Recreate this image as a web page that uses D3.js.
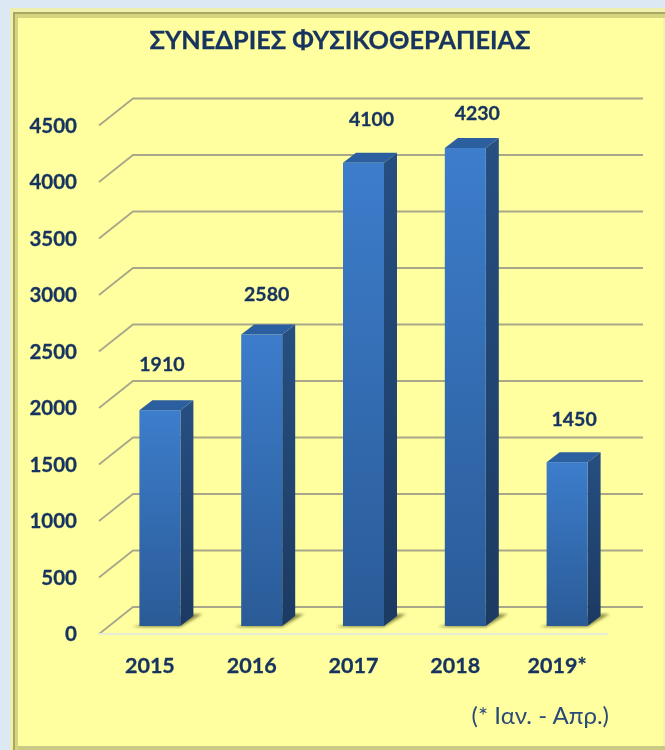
<!DOCTYPE html>
<html>
<head>
<meta charset="utf-8">
<script src="https://cdn.jsdelivr.net/npm/d3@7"></script>
<style>
  html, body { margin: 0; padding: 0; background: #dce8f3; }
  svg { display: block; filter: blur(0.45px); }
  text { font-family: "Lato", "Noto Sans", sans-serif; fill: #17335f; stroke: #17335f; stroke-width: 0.3px; }
</style>
</head>
<body>
<div id="chart"></div>
<script>
// data
var years = ["2015", "2016", "2017", "2018", "2019*"];
var sessions = [1910, 2580, 4100, 4230, 1450];
var yTicks = [0, 500, 1000, 1500, 2000, 2500, 3000, 3500, 4000, 4500];
var titleText = "ΣΥΝΕΔΡΙΕΣ ΦΥΣΙΚΟΘΕΡΑΠΕΙΑΣ";
var noteText = "(* Ιαν. - Απρ.)";

// hand placed value labels, relative to the top of each bar
var labelDx = [2, 5, 8, 12, 7];
var labelDy = [-39, -33, -37, -28, -36];

var width = 665, height = 750;

// fake 3d depth of the walls and of the bars
var wallX = 34, wallY = 27;
var barInY = 8;
var depthX = 13, depthY = 10;
var barW = 41;

var svg = d3.select("#chart")
  .append("svg")
    .attr("width", width)
    .attr("height", height)
    .attr("viewBox", "0 0 " + width + " " + height);

var defs = svg.append("defs");

function gradient(id, top, bottom) {
  var g = defs.append("linearGradient")
    .attr("id", id)
    .attr("x1", 0).attr("x2", 0).attr("y1", 0).attr("y2", 1);
  g.append("stop").attr("offset", "0%").attr("stop-color", top);
  g.append("stop").attr("offset", "100%").attr("stop-color", bottom);
}
gradient("barFront", "#3d7dcc", "#2a5b97");
gradient("barSide", "#264f82", "#1c3a62");

defs.append("filter").attr("id", "soft")
  .append("feGaussianBlur").attr("stdDeviation", 1.6);

// panel and its border
svg.append("rect").attr("x", 10).attr("y", 8).attr("width", 655).attr("height", 742).attr("fill", "#efefb0");
svg.append("rect").attr("x", 13).attr("y", 12).attr("width", 652).attr("height", 738).attr("fill", "#a9a862");
svg.append("rect").attr("x", 15).attr("y", 14).attr("width", 650).attr("height", 736).attr("fill", "#d6d57f");
svg.append("rect").attr("x", 18).attr("y", 18).attr("width", 645).attr("height", 728).attr("fill", "#ffff9f");
svg.append("rect").attr("x", 663).attr("y", 18).attr("width", 2).attr("height", 728).attr("fill", "#f2f2a8");
svg.append("rect").attr("x", 18).attr("y", 746).attr("width", 647).attr("height", 4).attr("fill", "#c9c884");

// scales, front plane of the floor
var y = d3.scaleLinear()
  .domain([0, 4500])
  .range([634, 125.5]);

var x = d3.scaleBand()
  .domain(years)
  .range([99, 608]);

// gridlines, along the wall and down the side
var gridEnd = 643;
svg.append("g")
  .selectAll("path")
  .data(yTicks)
  .enter()
  .append("path")
    .attr("d", function (d) {
      return "M" + x.range()[0] + "," + y(d) +
        "L" + (x.range()[0] + wallX) + "," + (y(d) - wallY) +
        "H" + gridEnd;
    })
    .attr("fill", "none")
    .attr("stroke", "#a8a78a")
    .attr("stroke-width", 1.8);

// floor edge
svg.append("line")
  .attr("x1", x.range()[0]).attr("x2", x.range()[1])
  .attr("y1", y(0)).attr("y2", y(0))
  .attr("stroke", "#e8edd6")
  .attr("stroke-width", 2);

function barLeft(d) { return x(d) + (x.bandwidth() - barW) / 2 + 10; }

var bars = svg.append("g")
  .selectAll("g")
  .data(years)
  .enter()
  .append("g");

// shadow on the floor
bars.append("path")
  .attr("d", function (d) {
    var l = barLeft(d), b = y(0) - barInY;
    return "M" + (l - 7) + "," + (b + 1) + "L" + (l + barW) + "," + (b + 1) +
      "L" + (l + barW + 22) + "," + (b - 12) + "L" + (l + barW + 4) + "," + (b - 12) + "Z";
  })
  .attr("fill", "#8d8c45")
  .attr("filter", "url(#soft)");

// right side of the bar
bars.append("path")
  .attr("d", function (d, i) {
    var r = barLeft(d) + barW, t = y(sessions[i]) - barInY, b = y(0) - barInY;
    return "M" + r + "," + t + "L" + (r + depthX) + "," + (t - depthY) +
      "V" + (b - depthY) + "L" + r + "," + b + "Z";
  })
  .attr("fill", "url(#barSide)");

// top of the bar
bars.append("path")
  .attr("d", function (d, i) {
    var l = barLeft(d), t = y(sessions[i]) - barInY;
    return "M" + l + "," + t + "L" + (l + depthX) + "," + (t - depthY) +
      "H" + (l + barW + depthX) + "L" + (l + barW) + "," + t + "Z";
  })
  .attr("fill", "#2c5f9f");

// front of the bar
bars.append("rect")
  .attr("x", function (d) { return barLeft(d); })
  .attr("y", function (d, i) { return y(sessions[i]) - barInY; })
  .attr("width", barW)
  .attr("height", function (d, i) { return y(0) - y(sessions[i]); })
  .attr("fill", "url(#barFront)");

// value labels
svg.append("g")
  .selectAll("text")
  .data(sessions)
  .enter()
  .append("text")
    .attr("x", function (d, i) { return barLeft(years[i]) + barW / 2 + labelDx[i]; })
    .attr("y", function (d, i) { return y(d) - barInY + labelDy[i]; })
    .attr("text-anchor", "middle")
    .attr("font-size", 19.5)
    .attr("font-weight", 700)
    .text(function (d) { return d; });

// axes, labels only
var yAxis = svg.append("g")
  .attr("transform", "translate(77,0)")
  .call(d3.axisLeft(y).tickValues(yTicks).tickFormat(d3.format("d")).tickSize(0).tickPadding(0));
yAxis.select(".domain").remove();
yAxis.attr("font-family", null);
yAxis.selectAll("text")
  .attr("font-size", 20.5)
  .attr("font-weight", 700);

var xAxis = svg.append("g")
  .attr("transform", "translate(0,673)")
  .call(d3.axisBottom(x).tickSize(0).tickPadding(0));
xAxis.select(".domain").remove();
xAxis.attr("font-family", null);
xAxis.selectAll("text")
  .attr("dy", 0)
  .attr("y", 0)
  .attr("font-size", 21.5)
  .attr("font-weight", 700);

// title and footnote
svg.append("text")
  .attr("x", 340)
  .attr("y", 49)
  .attr("text-anchor", "middle")
  .attr("font-size", 25.3)
  .attr("font-weight", 700)
  .text(titleText);

svg.append("text")
  .attr("x", 609)
  .attr("y", 724)
  .attr("text-anchor", "end")
  .attr("font-size", 24)
  .style("fill", "#2a4a78")
  .style("stroke", "none")
  .text(noteText);
</script>
</body>
</html>
